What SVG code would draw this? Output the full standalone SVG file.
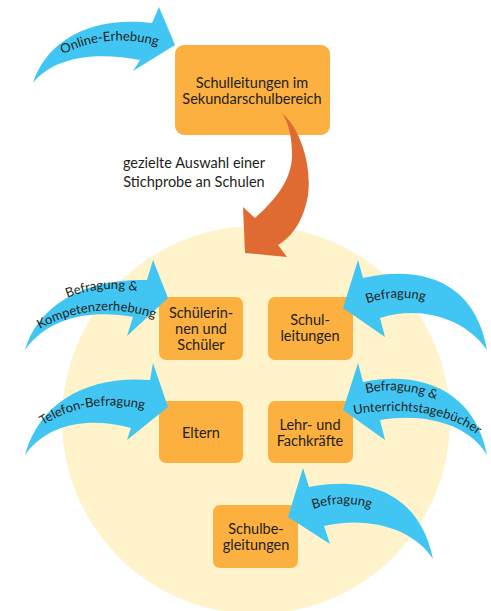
<svg xmlns="http://www.w3.org/2000/svg" width="491" height="611" viewBox="0 0 491 611">
<style>
.box{fill:#FBB040}
.lbl{font-family:Lato,"Open Sans","Liberation Sans",sans-serif;font-size:14.5px;fill:#231F20;text-anchor:middle}
.alb{font-family:Lato,"Open Sans","Liberation Sans",sans-serif;font-size:13px;fill:#231F20}
.blue{fill:#41C6F3}
.org{fill:#E06B32}
</style>
<defs>
<path id="p1" d="M58,57 Q105,30 163,47"/>
<path id="p2a" d="M60,301 Q100,282 145,293"/>
<path id="p2b" d="M33,333 Q95,295 162,321"/>
<path id="p3" d="M36,430 Q85,394 152,411"/>
<path id="p4" d="M360,306 Q396,291 432,303"/>
<path id="p5a" d="M360,395 Q400,383 442,402"/>
<path id="p5b" d="M352,415 C400,406 455,410 488,444"/>
<path id="p6" d="M306,512 Q342,496 378,511"/>
</defs>
<rect width="491" height="611" fill="#FFFFFF"/>
<circle cx="256" cy="420" r="194" fill="#FEF3CB"/>
<g id="node-schulleitungen-sek">
<rect class="box" x="175" y="45" width="155" height="90" rx="9"/>
<text class="lbl" x="252" y="88">Schulleitungen im</text>
<text class="lbl" x="252" y="104">Sekundarschulbereich</text>
</g>
<g id="node-schueler">
<rect class="box" x="159" y="297" width="84" height="63" rx="7"/>
<text class="lbl" x="201" y="318">Schülerin-</text>
<text class="lbl" x="201" y="334">nen und</text>
<text class="lbl" x="201" y="350">Schüler</text>
</g>
<g id="node-schulleitungen">
<rect class="box" x="268" y="297" width="85" height="63" rx="7"/>
<text class="lbl" x="310" y="325">Schul-</text>
<text class="lbl" x="310" y="341">leitungen</text>
</g>
<g id="node-eltern">
<rect class="box" x="159" y="401" width="84" height="62" rx="7"/>
<text class="lbl" x="201" y="438">Eltern</text>
</g>
<g id="node-lehr">
<rect class="box" x="268" y="401" width="85" height="62" rx="7"/>
<text class="lbl" x="310" y="430">Lehr- und</text>
<text class="lbl" x="310" y="446">Fachkräfte</text>
</g>
<g id="node-schulbegleitungen">
<rect class="box" x="213" y="505" width="85" height="63" rx="7"/>
<text class="lbl" x="256" y="534">Schulbe-</text>
<text class="lbl" x="256" y="550">gleitungen</text>
</g>
<g id="connectors">
<path class="org" d="M282,113 C300,128 312,165 308,195 C304,220 292,237 278,245 L287,257 L245,253 L243,207 L255,218 C275,200 292,180 292,155 C292,135 288,122 282,113 Z"/>
<text class="lbl" x="194" y="168">gezielte Auswahl einer</text>
<text class="lbl" x="194" y="187">Stichprobe an Schulen</text>
<path class="blue" d="M33,83 C45,45 85,15 152,23 L159,7 L175,45 L133,71 L140,60 C100,52 55,55 33,83 Z"/>
<text class="alb"><textPath href="#p1" startOffset="50%" text-anchor="middle">Online-Erhebung</textPath></text>
<path class="blue" d="M25,350 C38,305 85,278 147,280 L153,260 L168,298 L127,336 L133,317 C95,310 50,315 25,350 Z"/>
<text class="alb"><textPath href="#p2a" startOffset="50%" text-anchor="middle">Befragung &amp;</textPath></text>
<text class="alb"><textPath href="#p2b" startOffset="50%" text-anchor="middle">Kompetenzerhebung</textPath></text>
<path class="blue" d="M25,455 C40,400 90,375 150,380 L153,363 L168,407 L127,440 L131,428 C95,418 50,420 25,455 Z"/>
<text class="alb"><textPath href="#p3" startOffset="50%" text-anchor="middle">Telefon-Befragung</textPath></text>
<path class="blue" d="M343,308 L358,260 L363,278 C420,265 475,280 487,350 C465,318 420,305 380,318 L385,337 Z"/>
<text class="alb"><textPath href="#p4" startOffset="50%" text-anchor="middle">Befragung</textPath></text>
<path class="blue" d="M343,410 L358,363 L363,382 C420,370 475,390 487,455 C470,425 425,412 380,420 L385,440 Z"/>
<text class="alb"><textPath href="#p5a" startOffset="50%" text-anchor="middle">Befragung &amp;</textPath></text>
<text class="alb"><textPath href="#p5b" startOffset="2">Unterrichtstagebücher</textPath></text>
<path class="blue" d="M288,517 L303,468 L309,487 C370,475 420,495 433,559 C415,530 370,515 324,526 L330,544 Z"/>
<text class="alb"><textPath href="#p6" startOffset="50%" text-anchor="middle">Befragung</textPath></text>
</g>
</svg>
